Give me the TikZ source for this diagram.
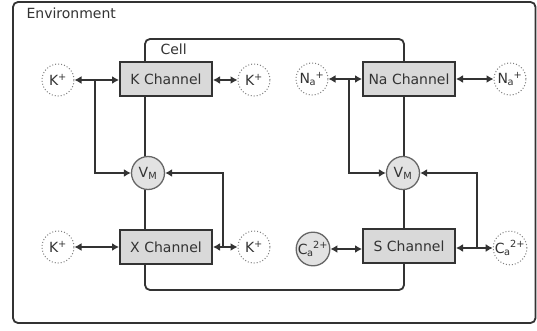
\documentclass[tikz,border=0pt]{standalone}
\usepackage{fontspec}
\setmainfont{DejaVu Sans}
\usetikzlibrary{arrows.meta}
\definecolor{edge}{HTML}{333333}
\definecolor{boxfill}{HTML}{D9D9D9}
\definecolor{ionfill}{HTML}{E2E2E2}
% element symbol with a subscript followed by a superscript
\newcommand\ionlabel[3]{#1\kern-0.5pt\textsubscript{#2}\kern-0.5pt\textsuperscript{#3}}
\tikzset{
  lbl/.style={font=\fontsize{14}{16}\selectfont, text=edge},
  chan/.style={lbl, draw=edge, line width=2pt, fill=boxfill,
    minimum width=92pt, minimum height=34pt, inner sep=0pt},
  ionfree/.style={lbl, circle, draw=gray, dotted, line width=1pt, fill=white,
    minimum size=32pt, inner sep=0pt},
  ionin/.style={lbl, circle, draw=gray!80!black, line width=1.3pt, fill=ionfill,
    minimum size=31pt, inner sep=0pt},
  vm/.style={lbl, circle, draw=gray!80!black, line width=1.3pt, fill=ionfill,
    minimum size=33pt, inner sep=0pt},
  wire/.style={draw=edge, line width=1.8pt},
  dbl/.style={wire, {Latex[length=7pt,width=8pt]}-{Latex[length=7pt,width=8pt]}},
  tip/.style={wire, -{Latex[length=7pt,width=8pt]}},
  frame/.style={draw=edge, line width=1.8pt, rounded corners=5pt}
}
\begin{document}
\begin{tikzpicture}[x=1pt,y=-1pt]
\useasboundingbox (0,0) rectangle (537,331);
\fill[white] (0,0) rectangle (537,331);

% environment and cell boundaries
\draw[frame] (13,2) rectangle (535.5,323);
\node[lbl, anchor=base west] (env) at (23,19) {Environment};
\draw[frame] (145,39) rectangle (404,290);
\node[lbl, anchor=base west] (cell) at (157,55) {Cell};

% channels
\node[chan] (K) at (166,79.5) {K Channel};
\node[chan] (Na) at (409,79) {Na Channel};
\node[chan] (X) at (166,247) {X Channel};
\node[chan] (S) at (409,246) {S Channel};

% membrane potential
\node[vm] (V1) at (148,173) {V\textsubscript{M}};
\node[vm] (V2) at (403,173) {V\textsubscript{M}};

% ions
\node[ionfree] (k1) at (58,80) {K\textsuperscript{+}};
\node[ionfree] (k2) at (254,80) {K\textsuperscript{+}};
\node[ionfree] (k3) at (58,247) {K\textsuperscript{+}};
\node[ionfree] (k4) at (254,247) {K\textsuperscript{+}};
\node[ionfree] (na1) at (312,79) {\ionlabel{N}{a}{+}};
\node[ionfree] (na2) at (510,79) {\ionlabel{N}{a}{+}};
\node[ionin] (ca1) at (313,249) {\ionlabel{C}{a}{2+}};
\node[ionfree] (ca2) at (510,248) {\ionlabel{C}{a}{2+}};

% junction points
\coordinate (jk1) at (95,80);
\coordinate (jk4) at (223,247);
\coordinate (jna1) at (349,79);
\coordinate (jca2) at (477,248);

% exchange arrows
\draw[dbl] (k1) -- (K.west |- k1);
\draw[dbl] (K.east |- k2) -- (k2);
\draw[dbl] (k3) -- (X.west |- k3);
\draw[dbl] (X.east |- k4) -- (k4);
\draw[dbl] (na1) -- (Na.west |- na1);
\draw[dbl] (Na.east |- na2) -- (na2);
\draw[dbl] (ca1) -- (S.west |- ca1);
\draw[dbl] (S.east |- ca2) -- (ca2);

% feedback to membrane potential
\draw[tip] (jk1) |- (V1.west);
\draw[tip] (jk4) |- (V1.east);
\draw[tip] (jna1) |- (V2.west);
\draw[tip] (jca2) |- (V2.east);
\end{tikzpicture}
\end{document}
